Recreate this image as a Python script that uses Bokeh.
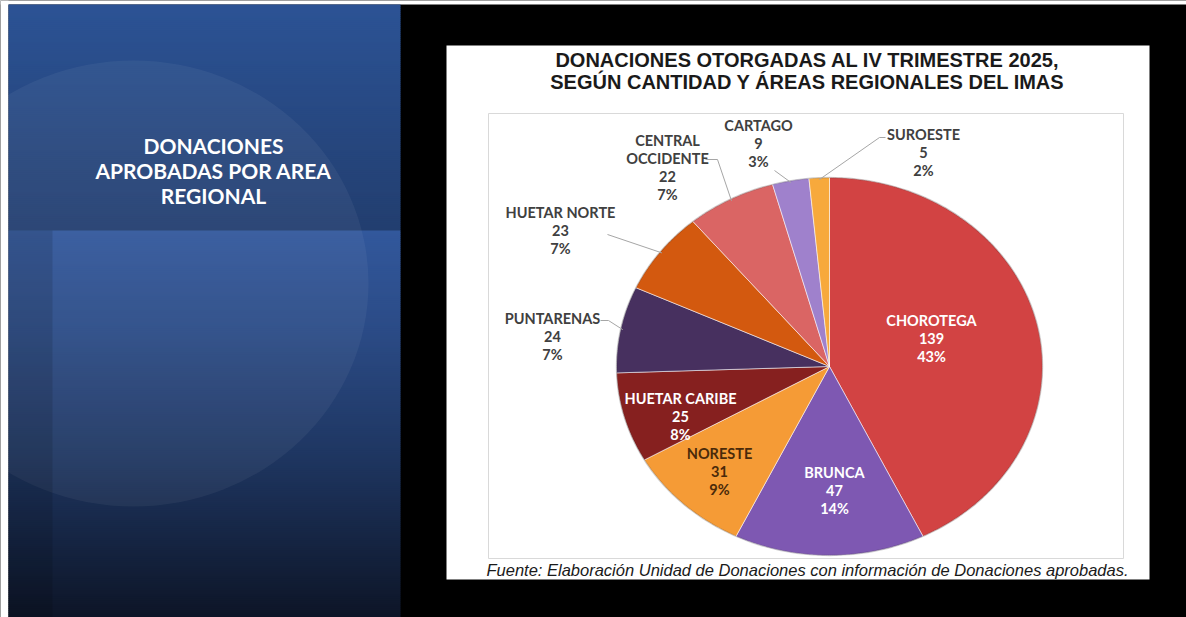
import numpy as np
from bokeh.plotting import figure
from bokeh.models import Range1d
from bokeh.embed import file_html
from bokeh.resources import INLINE
from bokeh.core.properties import value

# ---------------- data ----------------
regions = ["CHOROTEGA", "BRUNCA", "NORESTE", "HUETAR CARIBE", "PUNTARENAS",
           "HUETAR NORTE", "CENTRAL OCCIDENTE", "CARTAGO", "SUROESTE"]
counts = [139, 47, 31, 25, 24, 23, 22, 9, 5]
pct_labels = ["43%", "14%", "9%", "8%", "7%", "7%", "7%", "3%", "2%"]

chart_title = ["DONACIONES OTORGADAS AL IV TRIMESTRE 2025,",
               "SEGÚN CANTIDAD Y ÁREAS REGIONALES DEL IMAS"]
source_note = "Fuente: Elaboración Unidad de Donaciones con información de Donaciones aprobadas."
panel_title = ["DONACIONES", "APROBADAS POR AREA", "REGIONAL"]

# ---------------- styles / layout ----------------
slice_colors = ["#d24343", "#7e58b2", "#f59b36", "#86201f", "#47305f",
                "#d3590f", "#da6564", "#9f81cc", "#f7a93c"]
label_colors = ["white", "white", "#4a2a0a", "white", "#404040",
                "#404040", "#404040", "#404040", "#404040"]
label_pos = [(931, 320), (834, 472), (719, 453), (680, 398), (552, 318),
             (560, 212), (667, 140), (758, 125), (923, 134)]
leader_start = {4: [(600, 320), (608, 320)], 5: [(607, 234)],
                6: [(705, 159), (717, 159)], 7: [(774, 170)],
                8: [(885, 137), (879, 137)]}
name_breaks = {"CENTRAL OCCIDENTE": ["CENTRAL", "OCCIDENTE"]}
cx, cy, rx, ry = 829, 366, 213, 189
LINE_GAP = 18

W, H = 1186, 617
p = figure(width=W, height=H, x_range=Range1d(0, W), y_range=Range1d(H, 0),
           output_backend="svg", toolbar_location=None, min_border=0,
           x_axis_type=None, y_axis_type=None)
p.grid.visible = False
p.outline_line_color = None
p.background_fill_color = "black"
p.border_fill_color = "black"


def hx(c):
    c = c.lstrip("#")
    return np.array([int(c[i:i + 2], 16) for i in (0, 2, 4)], dtype=float)


def grad(stops, y0, y1, step=2):
    tops, bots, cols = [], [], []
    ys = np.arange(y0, y1, step)
    sy = [s[0] for s in stops]
    cs = np.array([hx(s[1]) for s in stops])
    for y in ys:
        c = [np.interp(y + step / 2, sy, cs[:, k]) for k in range(3)]
        tops.append(y)
        bots.append(y + step + 0.5)
        cols.append("#%02x%02x%02x" % tuple(int(round(v)) for v in c))
    return tops, bots, cols


# outer white edges
p.quad(left=0, right=W, top=0, bottom=4, fill_color="white", line_color=None)
p.quad(left=0, right=8, top=0, bottom=H, fill_color="white", line_color=None)

# left blue panel
t, b, c = grad([(4, "#2c5395"), (230, "#223e6f")], 4, 230)
p.quad(left=8, right=400, top=t, bottom=b, fill_color=c, line_color=None)
t, b, c = grad([(230, "#32589c"), (330, "#2b4b86"), (450, "#1f3763"), (617, "#0d1527")], 230, 617)
p.quad(left=8, right=400, top=t, bottom=b, fill_color=c, line_color=None)
p.ellipse(x=133, y=283, width=470, height=446, fill_color="white", fill_alpha=0.05, line_color=None)
p.quad(left=8, right=52, top=230, bottom=617, fill_color="black", fill_alpha=0.12, line_color=None)
p.text(x=[213] * 3, y=[145, 170, 195], text=panel_title, text_color="white",
       text_font=value("Lato"), text_font_style="bold", text_font_size="21px",
       text_align="center", text_baseline="middle")

# white chart card
p.quad(left=446, right=1149, top=45, bottom=579, fill_color="white", line_color=None)
p.quad(left=488, right=1123, top=113, bottom=558, fill_color=None, line_color="#d9d9d9", line_width=1)

p.text(x=[807, 807], y=[59, 81], text=chart_title, text_color="#1a1a1a",
       text_font=value("Liberation Sans"), text_font_style="bold", text_font_size="20px",
       text_align="center", text_baseline="middle")
p.text(x=[807], y=[569], text=[source_note], text_color="#1a1a1a",
       text_font=value("Liberation Sans"), text_font_style="italic", text_font_size="16.5px",
       text_align="center", text_baseline="middle")

# pie
total = float(sum(counts))
cum = np.concatenate([[0], np.cumsum(counts)]) / total * 2 * np.pi
xs, ys = [], []
for i in range(len(counts)):
    tt = np.linspace(cum[i], cum[i + 1], max(6, counts[i] * 2))
    xs.append([cx] + list(cx + rx * np.sin(tt)))
    ys.append([cy] + list(cy - ry * np.cos(tt)))
p.patches(xs, ys, fill_color=slice_colors, line_color="white", line_alpha=0.55, line_width=1)
p.ellipse(x=cx, y=cy, width=2 * rx, height=2 * ry, fill_color=None,
          line_color="black", line_alpha=0.18, line_width=1.5)

# leader lines
for i, pts in leader_start.items():
    mid = (cum[i] + cum[i + 1]) / 2
    ex = cx + rx * 0.99 * np.sin(mid)
    ey = cy - ry * 0.99 * np.cos(mid)
    lx = [q[0] for q in pts] + [ex]
    ly = [q[1] for q in pts] + [ey]
    p.line(lx, ly, line_color="#a6a6a6", line_width=1)

# labels
tx, ty, tt_, tc = [], [], [], []
for i, r in enumerate(regions):
    lines = name_breaks.get(r, [r]) + [str(counts[i]), pct_labels[i]]
    x0, y0 = label_pos[i]
    for k, s in enumerate(lines):
        tx.append(x0)
        ty.append(y0 + k * LINE_GAP)
        tt_.append(s)
        tc.append(label_colors[i])
p.text(x=tx, y=ty, text=tt_, text_color=tc, text_font=value("Lato"), text_font_style="bold",
       text_font_size="14.5px", text_align="center", text_baseline="middle")

open("out.html", "w").write(file_html(p, INLINE))
